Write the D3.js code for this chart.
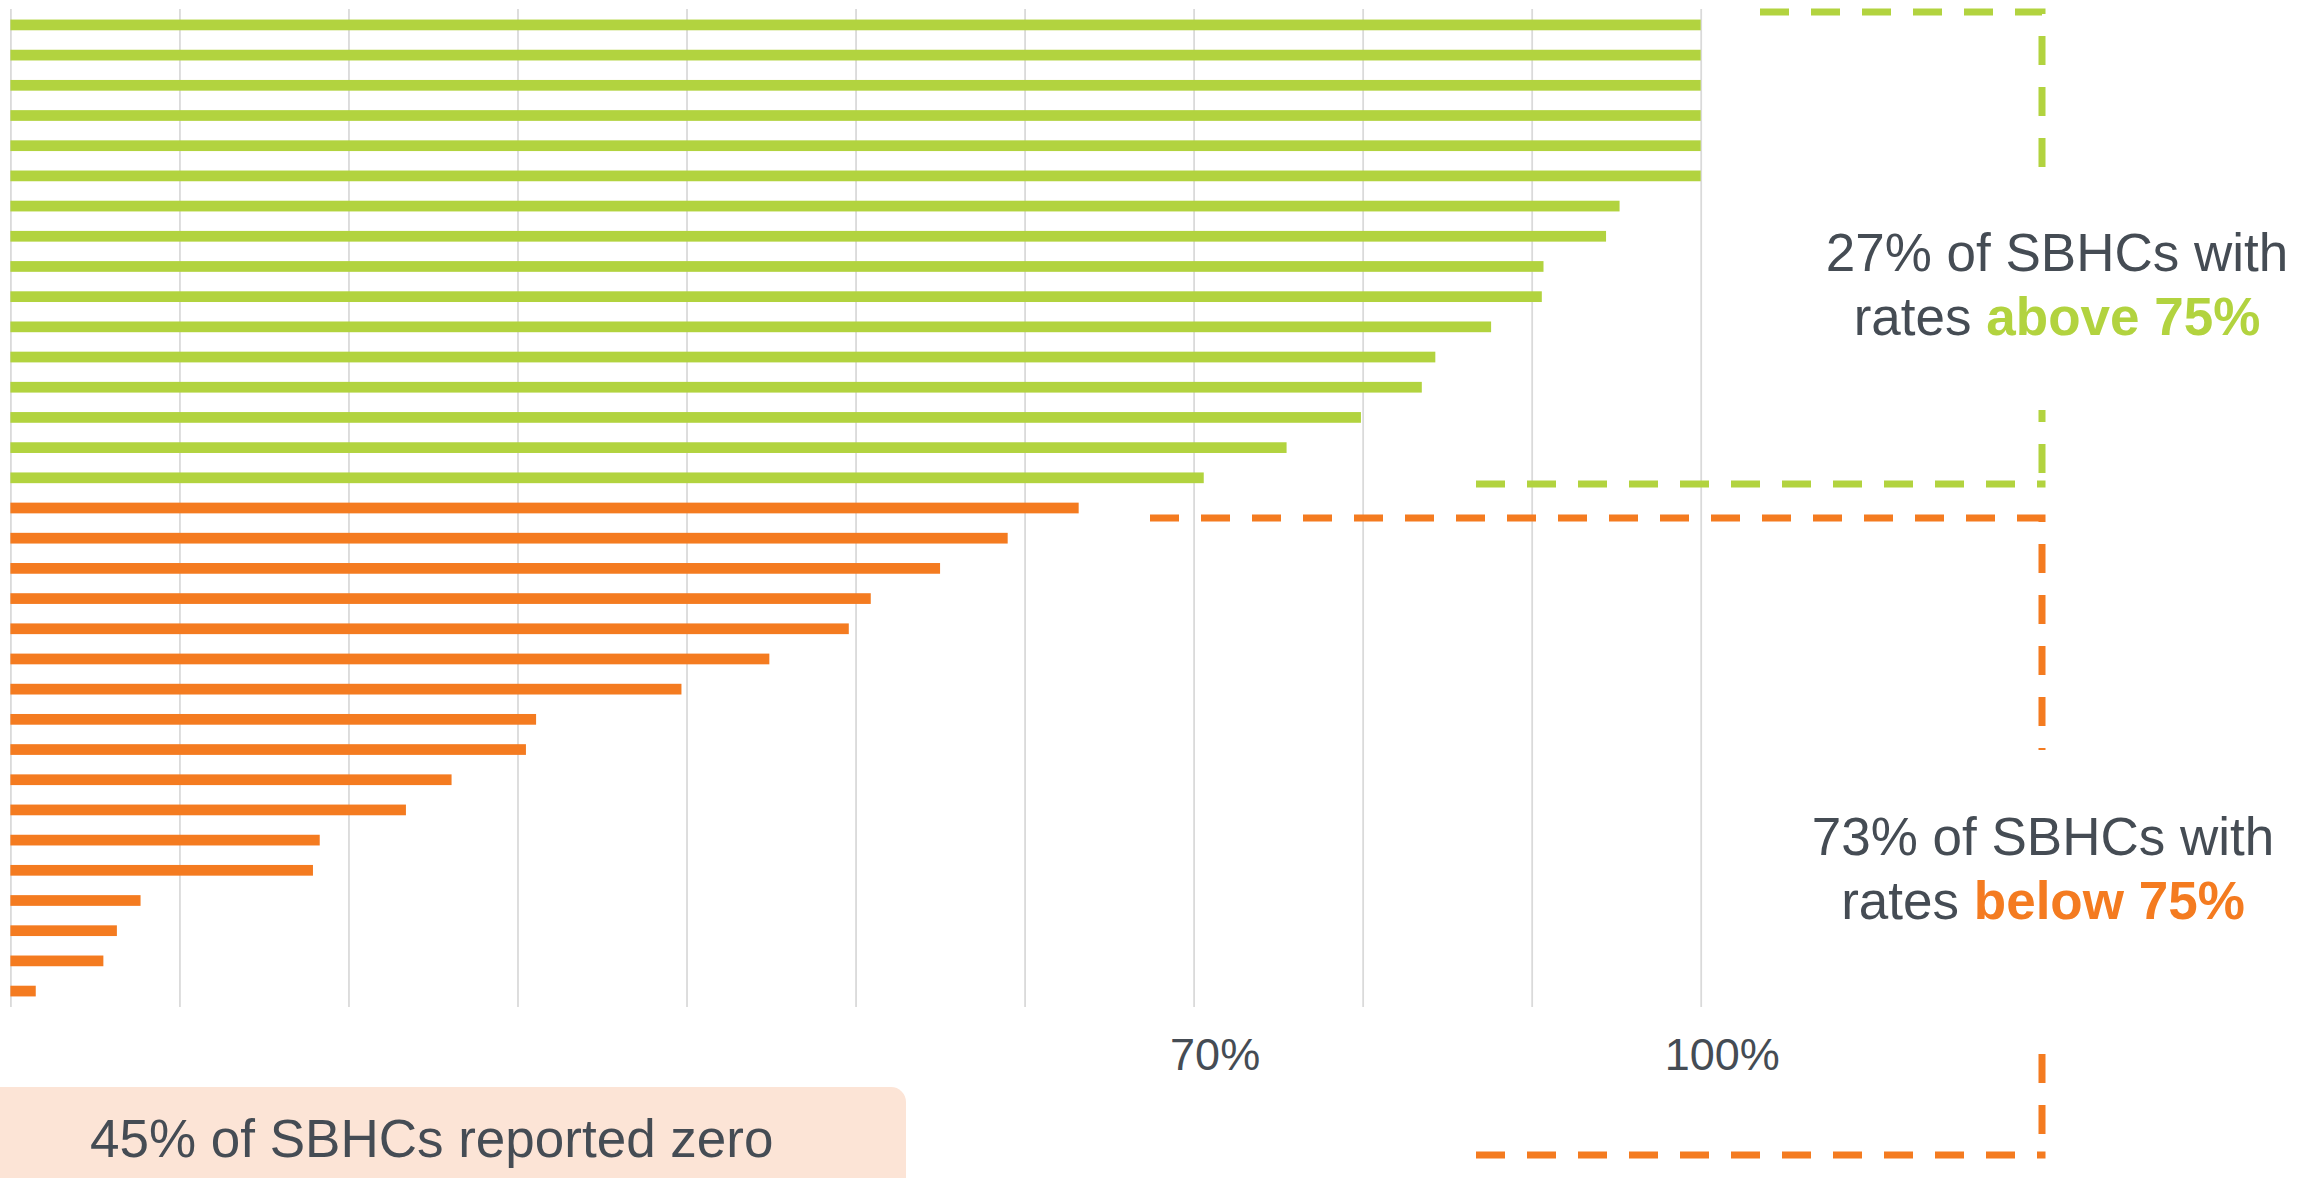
<!DOCTYPE html>
<html>
<head>
<meta charset="utf-8">
<script src="https://cdn.jsdelivr.net/npm/d3@7"></script>
<style>
    body { margin: 0; background: #ffffff; }
    svg { display: block; font-family: "Liberation Sans", Arial, sans-serif; }
</style>
</head>
<body>
<svg id="chart"></svg>
<script>
/* rates per SBHC, sorted high to low (zeros left out) */
const aboveRates = [100, 100, 100, 100, 100, 100, 95.2, 94.4, 90.7, 90.6, 87.6, 84.3, 83.5, 79.9, 75.5, 70.6];
const belowRates = [63.2, 59.0, 55.0, 50.9, 49.6, 44.9, 39.7, 31.1, 30.5, 26.1, 23.4, 18.3, 17.9, 7.7, 6.3, 5.5, 1.5];
const gridValues = [0, 10, 20, 30, 40, 50, 60, 70, 80, 90, 100];
const tickLabels = [70, 100];
const aboveText = ["27% of SBHCs with", "rates ", "above 75%"];
const belowText = ["73% of SBHCs with", "rates ", "below 75%"];
const zeroText = "45% of SBHCs reported zero";

const width = 2321;
const height = 1178;
const green = "#B2D33F";
const orange = "#F47B20";
const textGray = "#454C54";

const svg = d3.select("#chart")
    .attr("width", width)
    .attr("height", height);

// one list of all bars, green group first
const bars = aboveRates.map(v => ({ value: v, group: "above" }))
    .concat(belowRates.map(v => ({ value: v, group: "below" })));

const x = d3.scaleLinear()
    .domain([0, 100])
    .range([10.4, 1700.7]);

const y = d3.scaleBand()
    .domain(d3.range(bars.length))
    .range([9, 1007])
    .paddingInner(0.645)
    .paddingOuter(0.35);

// vertical gridlines
svg.append("g")
    .attr("transform", "translate(0,1007)")
    .call(d3.axisBottom(x).tickValues(gridValues).tickSize(-998).tickFormat(""))
    .call(g => g.select(".domain").remove())
    .call(g => g.selectAll(".tick line")
        .attr("stroke", "#DADADA")
        .attr("stroke-width", 1.8));

svg.selectAll("rect.bar")
    .data(bars)
    .enter()
    .append("rect")
    .attr("class", "bar")
    .attr("x", x(0))
    .attr("y", (d, i) => y(i))
    .attr("width", d => x(d.value) - x(0))
    .attr("height", y.bandwidth())
    .attr("fill", d => d.group == "above" ? green : orange);

// only two tick labels are shown, a bit right of their gridline
svg.append("g")
    .attr("transform", "translate(0,1070)")
    .call(d3.axisBottom(x).tickValues(tickLabels).tickSize(0).tickFormat(d => d + "%"))
    .call(g => g.select(".domain").remove())
    .call(g => g.selectAll("text")
        .attr("y", 0)
        .attr("dy", 0)
        .attr("dx", 21)
        .attr("fill", textGray)
        .style("font-size", "45px")
        .style("font-family", "Liberation Sans, Arial, sans-serif"));

/* dashed brackets, bottom leg drawn from its left end */
const dashed = (pts, color) => {
    svg.append("path")
        .attr("d", d3.line()(pts))
        .attr("fill", "none")
        .attr("stroke", color)
        .attr("stroke-width", 7)
        .attr("stroke-dasharray", "29,22");
};
dashed([[1760, 12], [2042, 12], [2042, 484]], green);
dashed([[1476, 484], [2045.5, 484]], green);
dashed([[1150, 518], [2042, 518], [2042, 1155]], orange);
dashed([[1476, 1155], [2045.5, 1155]], orange);

// white boxes behind the callout text cut the brackets
svg.append("rect").attr("x", 1800).attr("y", 184).attr("width", 520).attr("height", 226).attr("fill", "#ffffff");
svg.append("rect").attr("x", 1790).attr("y", 750).attr("width", 520).attr("height", 289).attr("fill", "#ffffff");

const callout = (lines, cx, y0, color) => {
    const t = svg.append("text")
        .attr("text-anchor", "middle")
        .style("font-size", "53px")
        .attr("fill", textGray);
    t.append("tspan").attr("x", cx).attr("y", y0).text(lines[0]);
    const l2 = t.append("tspan").attr("x", cx).attr("y", y0 + 63.5);
    l2.append("tspan").text(lines[1]);
    l2.append("tspan").attr("fill", color).style("font-weight", "bold").text(lines[2]);
};
callout(aboveText, 2057, 271, green);
callout(belowText, 2043, 855, orange);

// zero note box at the bottom left
svg.append("rect")
    .attr("x", -20)
    .attr("y", 1087)
    .attr("width", 926)
    .attr("height", 130)
    .attr("rx", 15)
    .attr("fill", "#FCE4D6");

svg.append("text")
    .attr("x", 90)
    .attr("y", 1157)
    .attr("fill", textGray)
    .style("font-size", "53px")
    .text(zeroText);
</script>
</body>
</html>
